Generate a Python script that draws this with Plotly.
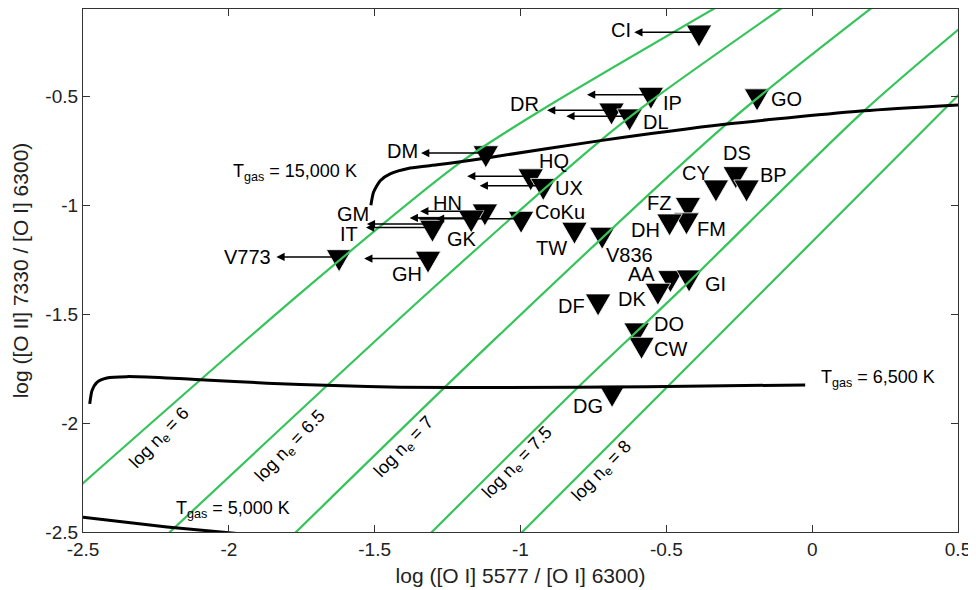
import plotly.graph_objects as go

# ---------------- data ----------------
names = ["CI", "IP", "DR", "DL", "DM", "GO", "HQ", "UX", "CoKu", "HN",
         "GK", "GM", "IT", "V773", "GH", "CY", "DS", "BP", "FZ", "FM",
         "DH", "TW", "V836", "AA", "GI", "DK", "DF", "DO", "CW", "DG"]
star_x = [-0.388, -0.553, -0.688, -0.626, -1.119, -0.189, -0.965, -0.922, -0.998, -1.122,
          -1.169, -1.309, -1.302, -1.622, -1.317, -0.330, -0.262, -0.225, -0.426, -0.431,
          -0.489, -0.815, -0.720, -0.486, -0.422, -0.529, -0.734, -0.602, -0.585, -0.686]
star_y = [-0.207, -0.493, -0.565, -0.592, -0.761, -0.500, -0.867, -0.911, -1.062, -1.028,
          -1.059, -1.087, -1.103, -1.238, -1.245, -0.918, -0.857, -0.918, -0.998, -1.069,
          -1.074, -1.112, -1.135, -1.334, -1.331, -1.392, -1.441, -1.574, -1.640, -1.861]
# upper limits in [O I] 5577: arrow end (None = detection)
limit_x = [-0.610, -0.772, -0.909, -0.843, -1.341, None, -1.183, -1.140, -1.290, -1.344,
           -1.380, -1.527, -1.530, -1.837, -1.536, None, None, None, None, None,
           None, None, None, None, None, None, None, None, None, None]

# constant-density tracks (log n_e)
ne_values = ["6", "6.5", "7", "7.5", "8"]
ne6_x = [-2.55, -1.744, -1.206, -0.932, -0.30]
ne6_y = [-2.335, -1.392, -0.804, -0.567, -0.07]
ne65_x = [-2.25, -1.309, -0.726, -0.555, -0.08]
ne65_y = [-2.56, -1.392, -0.704, -0.524, -0.073]
ne7_x = [-1.80, -1.069, -0.287, 0.23]
ne7_y = [-2.54, -1.591, -0.620, -0.068]
ne75_x = [-1.33, -0.806, -0.452, 0.176, 0.55]
ne75_y = [-2.535, -1.84, -1.39, -0.57, -0.14]
ne8_x = [-1.02, -0.498, -0.167, 0.55]
ne8_y = [-2.535, -1.836, -1.392, -0.43]

# constant-temperature tracks
t15000_x = [-1.513, -1.504, -1.481, -1.447, -1.378, -1.286, -1.2, -1.1, -0.726, -0.292, 0.176, 0.502]
t15000_y = [-1.001, -0.941, -0.888, -0.857, -0.830, -0.815, -0.800, -0.780, -0.704, -0.628, -0.567, -0.540]
t6500_x = [-2.477, -2.469, -2.452, -2.418, -2.349, -2.212, -2.098, -1.869, -1.641, -1.412, -1.069, -0.566, -0.024]
t6500_y = [-1.912, -1.851, -1.813, -1.793, -1.787, -1.793, -1.801, -1.817, -1.828, -1.836, -1.837, -1.833, -1.825]
t5000_x = [-2.55, -2.5, -2.212, -2.0, -1.95]
t5000_y = [-2.424, -2.432, -2.477, -2.503, -2.51]

x_ticks = [-2.5, -2, -1.5, -1, -0.5, 0, 0.5]
x_ticktext = ["-2.5", "-2", "-1.5", "-1", "-0.5", "0", "0.5"]
y_ticks = [-2.5, -2, -1.5, -1, -0.5]
y_ticktext = ["-2.5", "-2", "-1.5", "-1", "-0.5"]

# ---------------- layout constants ----------------
# the page body adds an 8 px margin, so the figure is 8 px smaller than the window
W, H = 968, 582
ML, MR, MT, MB = 75, 18, 1, 58
XR = [-2.5, 0.5]
YR = [-2.5, -0.1]
PXX = (W - ML - MR) / (XR[1] - XR[0])
PXY = (H - MT - MB) / (YR[1] - YR[0])
FONT = "Liberation Sans, Arial, Helvetica, sans-serif"
GREEN = "#35c45a"

# label offsets in pixels (dx right, dy down) relative to each star
label_off = {
    "CI": (-78, -2), "IP": (22, 8), "DR": (-87, -6), "DL": (26, 6), "DM": (-83, -2),
    "GO": (29, 3), "HQ": (23, -15), "UX": (26, 2), "CoKu": (39, -7), "HN": (-37, -8),
    "GK": (-9, 21), "GM": (-77, -10), "IT": (-83, 6), "V773": (-92, 0), "GH": (-21, 15),
    "CY": (-20, -14), "DS": (1, -21), "BP": (27, -12), "FZ": (-29, -2), "FM": (25, 9),
    "DH": (-24, 9), "TW": (-23, 18), "V836": (27, 20), "AA": (-29, -4), "GI": (26, 7),
    "DK": (-26, 8), "DF": (-27, 5), "DO": (32, -6), "CW": (29, 4), "DG": (-24, 13),
}

fig = go.Figure()

# triangles (drawn first, lines on top as in the reference)
hw = 12.75 / PXX
up = 7.3 / PXY
dn = 14.7 / PXY
for n, x, y in zip(names, star_x, star_y):
    fig.add_trace(go.Scatter(
        x=[x - hw, x + hw, x, x - hw],
        y=[y + up, y + up, y - dn, y + up],
        mode="lines", fill="toself", fillcolor="black",
        line=dict(color="white", width=0.8), hoverinfo="skip", showlegend=False))

# constant density tracks
for xs, ys in [(ne6_x, ne6_y), (ne65_x, ne65_y), (ne7_x, ne7_y), (ne75_x, ne75_y), (ne8_x, ne8_y)]:
    fig.add_trace(go.Scatter(x=xs, y=ys, mode="lines",
                             line=dict(color=GREEN, width=2.2, shape="spline", smoothing=0.8),
                             hoverinfo="skip", showlegend=False))

# constant temperature tracks
for xs, ys in [(t15000_x, t15000_y), (t6500_x, t6500_y), (t5000_x, t5000_y)]:
    fig.add_trace(go.Scatter(x=xs, y=ys, mode="lines",
                             line=dict(color="black", width=3, shape="spline", smoothing=0.6),
                             hoverinfo="skip", showlegend=False))

ann = []
# upper-limit arrows
for n, x, y, lx in zip(names, star_x, star_y, limit_x):
    if lx is None:
        continue
    ann.append(dict(x=lx, y=y, ax=x, ay=y, xref="x", yref="y", axref="x", ayref="y",
                    text="", showarrow=True, arrowhead=2, arrowsize=1.1, arrowwidth=1.5,
                    arrowcolor="black", standoff=0, startstandoff=0))

# star labels
for n, x, y, lx in zip(names, star_x, star_y, limit_x):
    dx, dy = label_off[n]
    ann.append(dict(x=x, y=y, xref="x", yref="y", text=n, showarrow=False,
                    xanchor="center", yanchor="middle", xshift=dx, yshift=-dy,
                    font=dict(family=FONT, size=20, color="black")))

# density labels
ne_pos = [(-2.235, -2.072), (-1.787, -2.108), (-1.398, -2.111), (-1.010, -2.184), (-0.719, -2.222)]
for v, (px, py) in zip(ne_values, ne_pos):
    ann.append(dict(x=px, y=py, xref="x", yref="y", text="log n<sub>e</sub> = " + v,
                    showarrow=False, textangle=-46, xanchor="center", yanchor="middle",
                    font=dict(family=FONT, size=18, color="black")))

# temperature labels
for txt, px, py in [("15,000", -1.993, -0.851), ("6,500", 0.0245, -1.796), ("5,000", -2.187, -2.397)]:
    ann.append(dict(x=px, y=py, xref="x", yref="y", text="T<sub>gas</sub> = " + txt + " K",
                    showarrow=False, xanchor="left", yanchor="middle",
                    font=dict(family=FONT, size=18, color="black")))

axis_common = dict(showline=True, linecolor="#333333", linewidth=1.2, mirror="ticks",
                   ticks="inside", ticklen=7, tickcolor="#333333", tickwidth=1.2,
                   showgrid=False, zeroline=False, automargin=False,
                   tickfont=dict(family=FONT, size=19, color="#222222"))

fig.update_layout(
    width=W, height=H,
    margin=dict(l=ML, r=MR, t=MT, b=MB, autoexpand=False),
    paper_bgcolor="white", plot_bgcolor="white",
    showlegend=False,
    annotations=ann,
    xaxis=dict(range=XR, tickvals=x_ticks, ticktext=x_ticktext,
               title=dict(text="log ([O I] 5577 / [O I] 6300)", standoff=9,
                          font=dict(family=FONT, size=21, color="#222222")),
               **axis_common),
    yaxis=dict(range=YR, tickvals=y_ticks, ticktext=y_ticktext,
               title=dict(text="log ([O II] 7330 / [O I] 6300)", standoff=10,
                          font=dict(family=FONT, size=21, color="#222222")),
               **axis_common),
)

fig.write_html("out.html")
